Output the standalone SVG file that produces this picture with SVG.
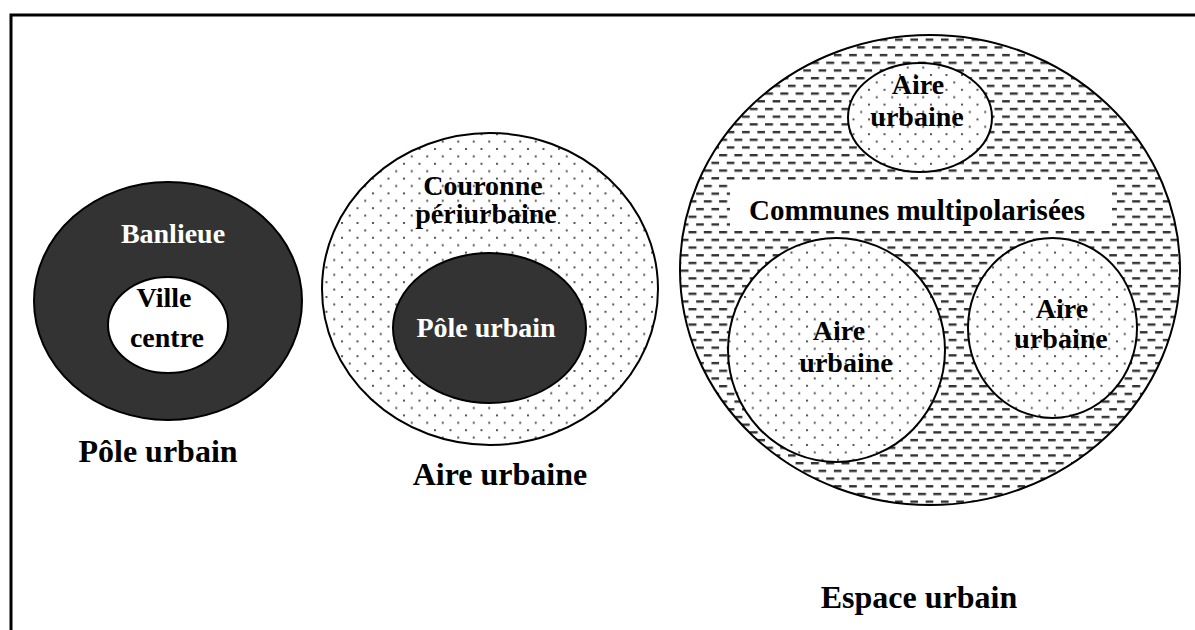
<svg xmlns="http://www.w3.org/2000/svg" width="1195" height="630" viewBox="0 0 1195 630">
<defs>
<pattern id="dots" patternUnits="userSpaceOnUse" width="15.5" height="14.8">
<rect x="0" y="0" width="2" height="2" fill="#555"/>
<rect x="7.75" y="7.4" width="2" height="2" fill="#555"/>
</pattern>
<pattern id="dashes" patternUnits="userSpaceOnUse" width="15.3" height="15.4">
<rect x="0" y="0" width="8" height="2.4" fill="#333"/>
<rect x="7.65" y="7.7" width="8" height="2.4" fill="#333"/>
</pattern>
<style>
.t{font-family:"Liberation Serif","Times New Roman",serif;font-weight:bold;text-anchor:middle}
.in{font-size:28px}
.lab{font-size:32px;fill:#000}
.w{fill:#fff}
.b{fill:#000}
.dark{fill:#333;stroke:#000;stroke-width:2}
.dot{fill:url(#dots);stroke:#000;stroke-width:2}
</style>
</defs>
<rect width="1195" height="630" fill="#fff"/>
<path d="M11,630 V15 H1195" fill="none" stroke="#000" stroke-width="3"/>

<g id="pole-urbain">
<ellipse class="dark" cx="168" cy="301" rx="134" ry="119"/>
<ellipse cx="168" cy="325" rx="60" ry="48" fill="#fff" stroke="#000" stroke-width="2"/>
<text class="t in w" x="173" y="243">Banlieue</text>
<text class="t in b" x="164" y="307">Ville</text>
<text class="t in b" x="167" y="347">centre</text>
<text class="t lab" x="158" y="462">Pôle urbain</text>
</g>

<g id="aire-urbaine">
<ellipse cx="490" cy="289" rx="168" ry="156" fill="#fff"/>
<ellipse class="dot" cx="490" cy="289" rx="168" ry="156"/>
<ellipse class="dark" cx="489.5" cy="328" rx="96.5" ry="75"/>
<text class="t in b" x="483" y="195">Couronne</text>
<text class="t in b" x="486" y="223">périurbaine</text>
<text class="t in w" x="486" y="337">Pôle urbain</text>
<text class="t lab" x="500" y="485">Aire urbaine</text>
</g>

<g id="espace-urbain">
<ellipse cx="930" cy="270" rx="250" ry="235" fill="#fff"/>
<ellipse cx="930" cy="270" rx="250" ry="235" fill="url(#dashes)" stroke="#000" stroke-width="2"/>
<rect x="730" y="182" width="382" height="47" fill="#fff"/>
<text class="t in b" x="917" y="220" style="font-size:29px">Communes multipolarisées</text>
<text class="t lab" x="919" y="608">Espace urbain</text>
</g>

<g id="aire-haut">
<ellipse cx="920" cy="117.5" rx="72" ry="54.5" fill="#fff"/>
<ellipse class="dot" cx="920" cy="117.5" rx="72" ry="54.5"/>
<text class="t in b" x="918" y="94">Aire</text>
<text class="t in b" x="917" y="126">urbaine</text>
</g>

<g id="aire-gauche">
<ellipse cx="836.5" cy="350" rx="108.5" ry="112" fill="#fff"/>
<ellipse class="dot" cx="836.5" cy="350" rx="108.5" ry="112"/>
<text class="t in b" x="839" y="340">Aire</text>
<text class="t in b" x="846" y="372">urbaine</text>
</g>

<g id="aire-droite">
<ellipse cx="1052.5" cy="328" rx="84.5" ry="90" fill="#fff"/>
<ellipse class="dot" cx="1052.5" cy="328" rx="84.5" ry="90"/>
<text class="t in b" x="1062" y="318">Aire</text>
<text class="t in b" x="1061" y="348">urbaine</text>
</g>
</svg>
